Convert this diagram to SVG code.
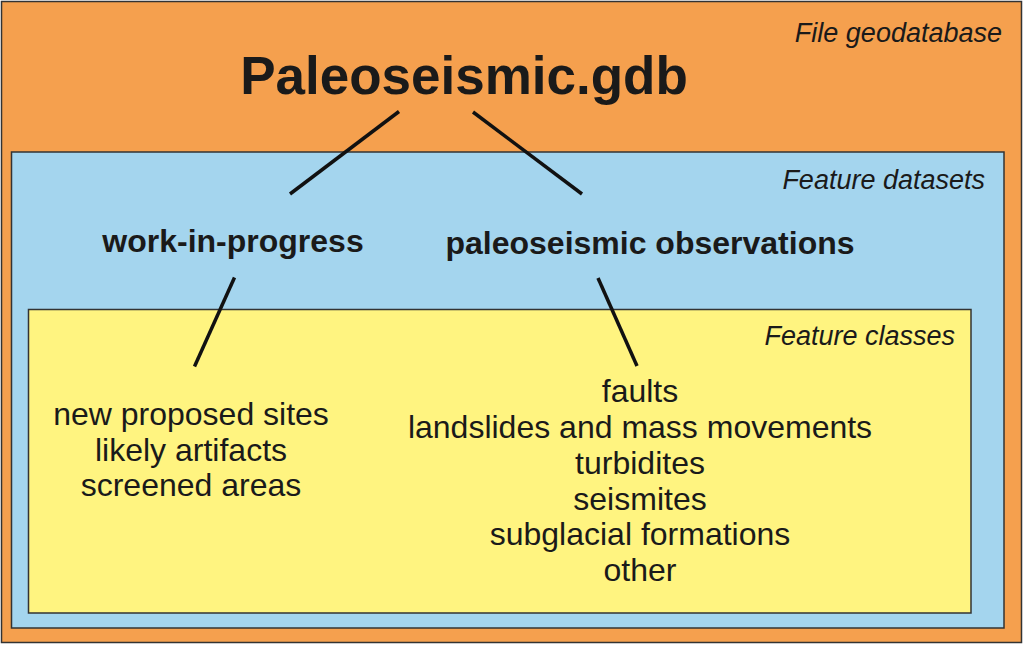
<svg xmlns="http://www.w3.org/2000/svg" width="1024" height="645" viewBox="0 0 1024 645">
<style>
.box{stroke:#333;stroke-width:1.5}
.t{font-family:"Liberation Sans",Arial,sans-serif;fill:#1a1a1a}
.lab{font-size:27px;font-style:italic;text-anchor:end}
.hd{font-size:32px;font-weight:bold;text-anchor:middle}
.it{font-size:32px;text-anchor:middle}
.c{stroke:#111;stroke-width:3.5;stroke-linecap:butt}
</style>
<rect width="1024" height="645" fill="#ffffff"/>
<g id="file-geodatabase">
<rect class="box" x="1.5" y="1.5" width="1020" height="641" fill="#F5A04E"/>
<text class="t lab" x="1002" y="42">File geodatabase</text>
<text class="t" x="464" y="94" font-size="53" font-weight="bold" text-anchor="middle">Paleoseismic.gdb</text>
</g>
<g id="feature-datasets">
<rect class="box" x="11.5" y="152" width="992.5" height="476" fill="#A4D5EE"/>
<text class="t lab" x="985" y="189">Feature datasets</text>
</g>
<g id="work-in-progress">
<text class="t hd" x="233" y="252">work-in-progress</text>
</g>
<g id="paleoseismic-observations">
<text class="t hd" x="650" y="254">paleoseismic observations</text>
</g>
<g id="feature-classes">
<rect class="box" x="28.5" y="309.5" width="942.5" height="303.5" fill="#FFF480"/>
<text class="t lab" x="955" y="345">Feature classes</text>
</g>
<g id="wip-classes">
<text class="t it" x="191" y="425">new proposed sites</text>
<text class="t it" x="191" y="461">likely artifacts</text>
<text class="t it" x="191" y="496">screened areas</text>
</g>
<g id="obs-classes">
<text class="t it" x="640" y="402">faults</text>
<text class="t it" x="640" y="438">landslides and mass movements</text>
<text class="t it" x="640" y="474">turbidites</text>
<text class="t it" x="640" y="510">seismites</text>
<text class="t it" x="640" y="545">subglacial formations</text>
<text class="t it" x="640" y="581">other</text>
</g>
<g id="connectors">
<line class="c" x1="399" y1="111.5" x2="290" y2="194"/>
<line class="c" x1="473" y1="112" x2="582" y2="194"/>
<line class="c" x1="234.5" y1="277.5" x2="194.5" y2="366.5"/>
<line class="c" x1="598" y1="278" x2="637" y2="366"/>
</g>
</svg>
